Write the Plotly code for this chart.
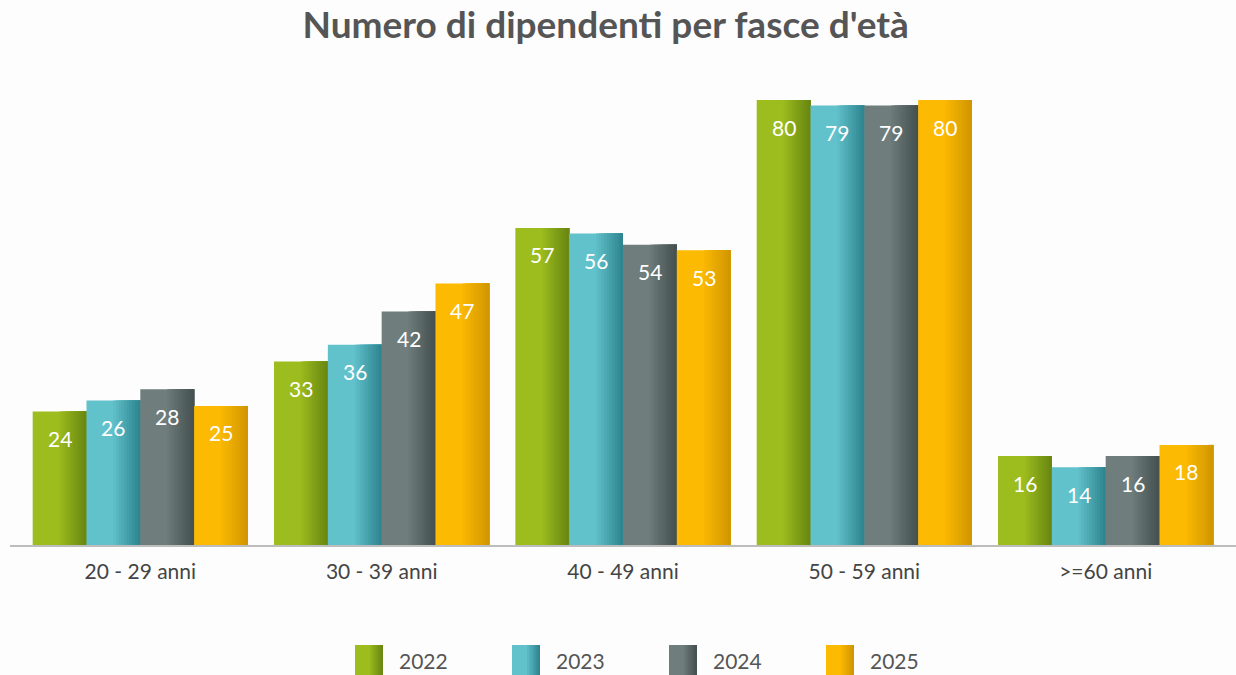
import plotly.graph_objects as go

categories = ["20 - 29 anni", "30 - 39 anni", "40 - 49 anni", "50 - 59 anni", ">=60 anni"]
years = ["2022", "2023", "2024", "2025"]
v2022 = [24, 33, 57, 80, 16]
v2023 = [26, 36, 56, 79, 14]
v2024 = [28, 42, 54, 79, 16]
v2025 = [25, 47, 53, 80, 18]
series = [v2022, v2023, v2024, v2025]

base_colors = ["#9dbd1e", "#62c2cc", "#6f7d7d", "#fcba03"]
dark_colors = ["#6a8812", "#2f8690", "#465151", "#d29700"]

W = 0.223
xs = list(range(len(categories)))

# figure geometry (pixels)
FW, FH = 1236, 675
ML, MR, MT, MB = 10, 0, 78, 130
PW, PH = FW - ML - MR, FH - MT - MB


def px2x(px):
    return (px - ML) / PW


def px2y(py):
    return (FH - MB - py) / PH


def hex2rgb(h):
    h = h.lstrip("#")
    return [int(h[i:i + 2], 16) for i in (0, 2, 4)]


def mix(c1, c2, t):
    a, b = hex2rgb(c1), hex2rgb(c2)
    return "rgb(%d,%d,%d)" % tuple(round(a[i] + (b[i] - a[i]) * t) for i in range(3))


fig = go.Figure()
steps = 10
for j, (yr, vals) in enumerate(zip(years, series)):
    off = (j - 2) * W
    fig.add_trace(go.Bar(
        x=xs, y=vals, name=yr, width=W, offset=off,
        marker=dict(color=base_colors[j], line=dict(width=0)),
        hoverinfo="skip", showlegend=False,
    ))
    for k in range(steps):
        f = 0.5 + 0.5 * k / steps
        t = (k + 1) / steps
        fig.add_trace(go.Bar(
            x=xs, y=vals, width=W * (1 - f), offset=off + W * f,
            marker=dict(color=mix(base_colors[j], dark_colors[j], t), line=dict(width=0)),
            showlegend=False, hoverinfo="skip",
        ))

annotations = []
for j, vals in enumerate(series):
    cx = (j - 1.5) * W
    for i, v in enumerate(vals):
        annotations.append(dict(
            x=i + cx, y=v, text=str(v), showarrow=False, yanchor="middle",
            yshift=-27, font=dict(family="Lato", size=21, color="white"),
        ))

# legend (swatches + labels)
shapes = []
LEG_X0, LEG_STEP, SW_W, SW_TOP, SW_BOT = 355, 157, 28, 645, 675
for j, yr in enumerate(years):
    x0 = LEG_X0 + j * LEG_STEP
    flat = 15
    shapes.append(dict(type="rect", xref="paper", yref="paper",
                       x0=px2x(x0), x1=px2x(x0 + flat + 1), y0=px2y(SW_BOT), y1=px2y(SW_TOP),
                       fillcolor=base_colors[j], line=dict(width=0)))
    nstep = 6
    for k in range(nstep):
        a = x0 + flat + (SW_W - flat) * k / nstep
        b = x0 + SW_W
        shapes.append(dict(type="rect", xref="paper", yref="paper",
                           x0=px2x(a), x1=px2x(b), y0=px2y(SW_BOT), y1=px2y(SW_TOP),
                           fillcolor=mix(base_colors[j], dark_colors[j], (k + 1) / nstep),
                           line=dict(width=0)))
    annotations.append(dict(xref="paper", yref="paper", x=px2x(x0 + SW_W + 14), y=px2y(660),
                            xanchor="left", yanchor="middle", text=yr, showarrow=False,
                            font=dict(family="Lato", size=21, color="#555555")))

fig.update_layout(
    width=FW, height=FH,
    barmode="overlay",
    paper_bgcolor="#fdfdfd", plot_bgcolor="#fdfdfd",
    margin=dict(l=ML, r=MR, t=MT, b=MB),
    title=dict(text="<b>Numero di dipendenti per fasce d'età</b>", x=0.49, xanchor="center",
               y=0.963, yanchor="middle",
               font=dict(family="Lato", size=37, color="#555555")),
    xaxis=dict(range=[-0.54, 4.54], tickvals=xs, ticktext=categories,
               showline=True, linecolor="#bdbdbd", linewidth=2, showgrid=False,
               zeroline=False, ticks="outside", ticklen=7, tickcolor="rgba(0,0,0,0)",
               tickfont=dict(family="Lato", size=21, color="#444444")),
    yaxis=dict(range=[0, PH / 5.5625], visible=False),
    showlegend=False,
    shapes=shapes,
    annotations=annotations,
)

fig.write_html("out.html", config={"displayModeBar": False},
               post_script="document.body.style.margin='0';document.body.style.overflow='hidden';")
